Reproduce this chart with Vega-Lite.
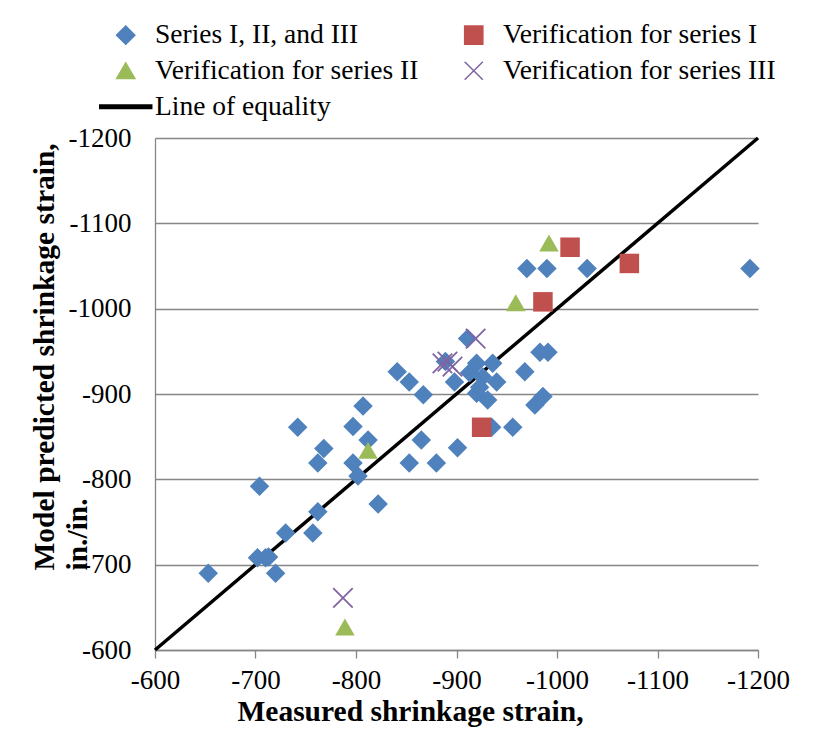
{
  "$schema": "https://vega.github.io/schema/vega-lite/v6.json",
  "width": 603,
  "height": 512,
  "autosize": {"type": "none"},
  "padding": {"left": 155, "top": 138, "right": 64, "bottom": 82},
  "background": "white",
  "config": {
    "view": {"stroke": null},
    "font": "Liberation Serif, Times New Roman, serif",
    "axis": {
      "labelFont": "Liberation Serif, Times New Roman, serif",
      "titleFont": "Liberation Serif, Times New Roman, serif",
      "labelFontSize": 27,
      "titleFontSize": 29.5,
      "titleFontWeight": "bold",
      "labelColor": "black",
      "titleColor": "black",
      "domainColor": "#868686",
      "domainWidth": 1.3,
      "tickColor": "#868686",
      "tickWidth": 1.3,
      "gridColor": "#868686",
      "gridWidth": 1.3,
      "gridOpacity": 1
    },
    "legend": {
      "labelFont": "Liberation Serif, Times New Roman, serif",
      "labelFontSize": 27.5,
      "labelColor": "black",
      "labelLimit": 0
    },
    "style": {
      "guide-label": {"font": "Liberation Serif, Times New Roman, serif"},
      "guide-title": {"font": "Liberation Serif, Times New Roman, serif"}
    }
  },
  "datasets": {
    "pts": [
      {"group": "Series I, II, and III", "measured": -653, "predicted": -690},
      {"group": "Series I, II, and III", "measured": -702, "predicted": -708},
      {"group": "Series I, II, and III", "measured": -710, "predicted": -708},
      {"group": "Series I, II, and III", "measured": -713, "predicted": -709},
      {"group": "Series I, II, and III", "measured": -720, "predicted": -690},
      {"group": "Series I, II, and III", "measured": -730, "predicted": -737},
      {"group": "Series I, II, and III", "measured": -704, "predicted": -792},
      {"group": "Series I, II, and III", "measured": -757, "predicted": -737},
      {"group": "Series I, II, and III", "measured": -762, "predicted": -762},
      {"group": "Series I, II, and III", "measured": -742, "predicted": -861},
      {"group": "Series I, II, and III", "measured": -768, "predicted": -836},
      {"group": "Series I, II, and III", "measured": -762, "predicted": -819},
      {"group": "Series I, II, and III", "measured": -797, "predicted": -862},
      {"group": "Series I, II, and III", "measured": -797, "predicted": -819},
      {"group": "Series I, II, and III", "measured": -802, "predicted": -804},
      {"group": "Series I, II, and III", "measured": -807, "predicted": -886},
      {"group": "Series I, II, and III", "measured": -812, "predicted": -846},
      {"group": "Series I, II, and III", "measured": -822, "predicted": -771},
      {"group": "Series I, II, and III", "measured": -841, "predicted": -926},
      {"group": "Series I, II, and III", "measured": -853, "predicted": -914},
      {"group": "Series I, II, and III", "measured": -853, "predicted": -819},
      {"group": "Series I, II, and III", "measured": -865, "predicted": -846},
      {"group": "Series I, II, and III", "measured": -867, "predicted": -899},
      {"group": "Series I, II, and III", "measured": -880, "predicted": -819},
      {"group": "Series I, II, and III", "measured": -901, "predicted": -837},
      {"group": "Series I, II, and III", "measured": -911, "predicted": -965},
      {"group": "Series I, II, and III", "measured": -889, "predicted": -938},
      {"group": "Series I, II, and III", "measured": -898, "predicted": -914},
      {"group": "Series I, II, and III", "measured": -920, "predicted": -936},
      {"group": "Series I, II, and III", "measured": -936, "predicted": -936},
      {"group": "Series I, II, and III", "measured": -913, "predicted": -925},
      {"group": "Series I, II, and III", "measured": -926, "predicted": -920},
      {"group": "Series I, II, and III", "measured": -940, "predicted": -914},
      {"group": "Series I, II, and III", "measured": -920, "predicted": -901},
      {"group": "Series I, II, and III", "measured": -931, "predicted": -893},
      {"group": "Series I, II, and III", "measured": -923, "predicted": -908},
      {"group": "Series I, II, and III", "measured": -968, "predicted": -926},
      {"group": "Series I, II, and III", "measured": -983, "predicted": -949},
      {"group": "Series I, II, and III", "measured": -991, "predicted": -949},
      {"group": "Series I, II, and III", "measured": -978, "predicted": -887},
      {"group": "Series I, II, and III", "measured": -986, "predicted": -897},
      {"group": "Series I, II, and III", "measured": -956, "predicted": -861},
      {"group": "Series I, II, and III", "measured": -935, "predicted": -861},
      {"group": "Series I, II, and III", "measured": -970, "predicted": -1047},
      {"group": "Series I, II, and III", "measured": -990, "predicted": -1047},
      {"group": "Series I, II, and III", "measured": -1030, "predicted": -1047},
      {"group": "Series I, II, and III", "measured": -1192, "predicted": -1047},
      {"group": "Verification for series I", "measured": -1013, "predicted": -1072},
      {"group": "Verification for series I", "measured": -1072, "predicted": -1053},
      {"group": "Verification for series I", "measured": -986, "predicted": -1008},
      {"group": "Verification for series I", "measured": -925, "predicted": -861},
      {"group": "Verification for series II", "measured": -992, "predicted": -1077},
      {"group": "Verification for series II", "measured": -959, "predicted": -1007},
      {"group": "Verification for series II", "measured": -812, "predicted": -834},
      {"group": "Verification for series II", "measured": -789, "predicted": -627},
      {"group": "Verification for series III", "measured": -919, "predicted": -965},
      {"group": "Verification for series III", "measured": -891, "predicted": -938},
      {"group": "Verification for series III", "measured": -886, "predicted": -936},
      {"group": "Verification for series III", "measured": -896, "predicted": -932},
      {"group": "Verification for series III", "measured": -787, "predicted": -661}
    ],
    "equality": [
      {"measured": -600, "predicted": -600},
      {"measured": -1200, "predicted": -1200}
    ]
  },
  "layer": [
    {
      "data": {"name": "equality"},
      "mark": {"type": "line", "color": "black", "strokeWidth": 3.5},
      "encoding": {
        "x": {"field": "measured", "type": "quantitative", "scale": {"domain": [-1200, -600], "reverse": true, "nice": false, "zero": false}},
        "y": {"field": "predicted", "type": "quantitative", "scale": {"domain": [-1200, -600], "reverse": true, "nice": false, "zero": false}}
      }
    },
    {
      "data": {"name": "pts"},
      "mark": {"type": "point", "filled": true, "opacity": 1, "size": 380},
      "encoding": {
        "x": {
          "field": "measured", "type": "quantitative",
          "scale": {"domain": [-1200, -600], "reverse": true, "nice": false, "zero": false},
          "axis": {
            "values": [-600, -700, -800, -900, -1000, -1100, -1200],
            "labelExpr": "'-' + format(abs(datum.value), 'd')",
            "labelFont": "Liberation Serif",
            "grid": false,
            "ticks": true,
            "tickSize": 8,
            "labelPadding": 9,
            "labelFlush": false,
            "title": "Measured shrinkage strain,",
            "titleFont": "Liberation Serif",
            "titleX": 255,
            "titleY": 70,
            "titleAlign": "center",
            "titleBaseline": "alphabetic"
          }
        },
        "y": {
          "field": "predicted", "type": "quantitative",
          "scale": {"domain": [-1200, -600], "reverse": true, "nice": false, "zero": false},
          "axis": {
            "values": [-600, -700, -800, -900, -1000, -1100, -1200],
            "labelExpr": "'-' + format(abs(datum.value), 'd')",
            "labelFont": "Liberation Serif",
            "grid": true,
            "ticks": false,
            "labelPadding": 24,
            "labelFlush": false,
            "title": ["Model predicted shrinkage strain,", "in./in."],
            "titleFont": "Liberation Serif",
            "titleAngle": -90,
            "titleAlign": "left",
            "titleBaseline": "top",
            "titleX": -125,
            "titleY": 432,
            "titleLineHeight": 33
          }
        },
        "color": {
          "field": "group", "type": "nominal",
          "scale": {
            "domain": ["Series I, II, and III", "Verification for series I", "Verification for series II", "Verification for series III", "Line of equality"],
            "range": ["#4F81BD", "#C0504D", "#9BBB59", "#8064A2", "#000000"]
          },
          "legend": {
            "title": null,
            "orient": "none",
            "direction": "horizontal",
            "legendX": -43,
            "legendY": -117,
            "columns": 2,
            "columnPadding": 41,
            "rowPadding": 7,
            "symbolSize": 330,
            "labelOffset": 15.5,
            "labelFont": "Liberation Serif",
            "padding": 0,
            "encode": {
              "symbols": {
                "update": {
                  "fill": {"signal": "datum.value === 'Verification for series III' ? 'transparent' : scale('color', datum.value)"},
                  "stroke": {"signal": "scale('color', datum.value)"},
                  "strokeWidth": {"signal": "datum.value === 'Verification for series III' ? 1.5 : 0"},
                  "opacity": {"value": 1}
                }
              }
            }
          }
        },
        "shape": {
          "field": "group", "type": "nominal",
          "scale": {
            "domain": ["Series I, II, and III", "Verification for series I", "Verification for series II", "Verification for series III", "Line of equality"],
            "range": ["diamond", "square", "triangle-up", "M-1,-1L1,1M-1,1L1,-1", "M-2.86,-0.2L2.86,-0.2L2.86,0.2L-2.86,0.2Z"]
          },
          "legend": {
            "title": null,
            "orient": "none",
            "direction": "horizontal",
            "legendX": -43,
            "legendY": -117,
            "columns": 2,
            "columnPadding": 41,
            "rowPadding": 7,
            "symbolSize": 330,
            "labelOffset": 15.5,
            "labelFont": "Liberation Serif",
            "padding": 0,
            "encode": {
              "symbols": {
                "update": {
                  "fill": {"signal": "datum.value === 'Verification for series III' ? 'transparent' : scale('color', datum.value)"},
                  "stroke": {"signal": "scale('color', datum.value)"},
                  "strokeWidth": {"signal": "datum.value === 'Verification for series III' ? 1.5 : 0"},
                  "opacity": {"value": 1}
                }
              }
            }
          }
        },
        "stroke": {
          "field": "group", "type": "nominal",
          "scale": {
            "domain": ["Series I, II, and III", "Verification for series I", "Verification for series II", "Verification for series III", "Line of equality"],
            "range": ["#4F81BD", "#C0504D", "#9BBB59", "#8064A2", "#000000"]
          },
          "legend": null
        },
        "strokeWidth": {
          "condition": {"test": "datum.group === 'Verification for series III'", "value": 1.8},
          "value": 0
        }
      }
    }
  ]
}
